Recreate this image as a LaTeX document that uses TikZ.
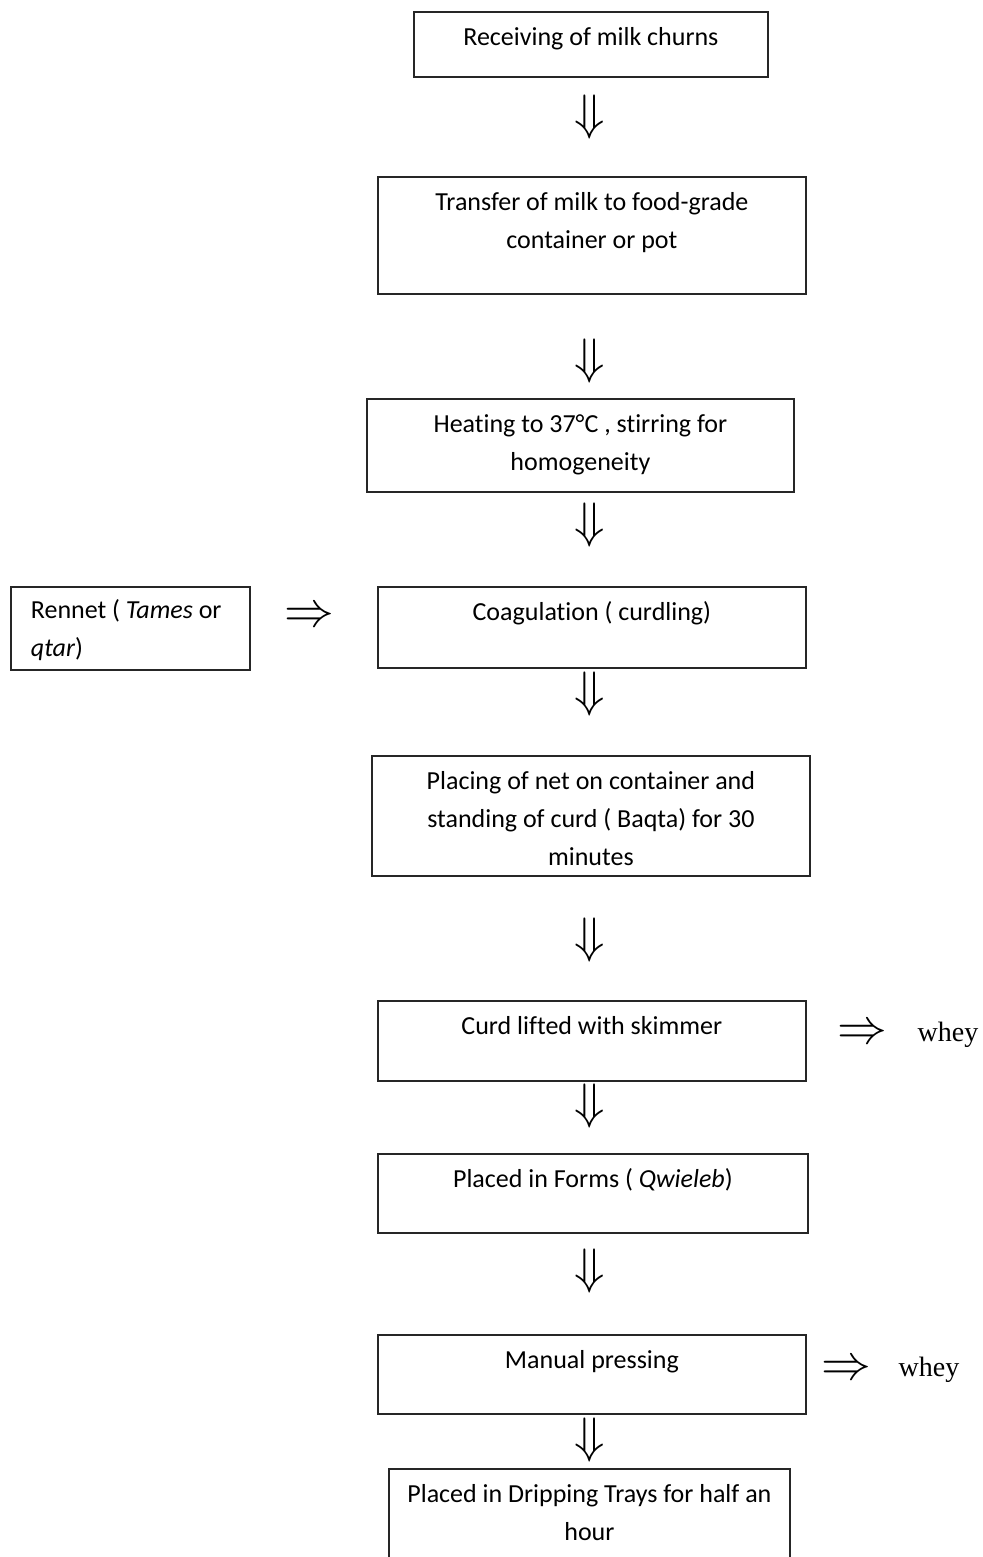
\documentclass[tikz,border=0pt]{standalone}
\usepackage{fontspec}
\setmainfont{Carlito}[Ligatures=NoCommon]
\newfontfamily\wheyfont{Liberation Serif}
\newcommand{\boxtext}[3]{\parbox[c][#2][t]{#1}{\fontsize{13}{19}\selectfont\centering\rule{0pt}{16.8pt}#3}}
\newcommand{\lefttext}[3]{\parbox[c][#2][t]{#1}{\fontsize{13}{19}\selectfont\raggedright\leftskip=10pt\rule{0pt}{15.8pt}#3}}

\begin{document}
\begin{tikzpicture}[x=0.5pt,y=-0.5pt]
        \useasboundingbox (0,0) rectangle (982,1557);
        \fill[white] (0,0) rectangle (982,1557);
        \clip (0,0) rectangle (982,1557);
        \begin{scope}[every node/.style={rectangle,draw=black!85,line width=0.9pt,inner sep=0pt,anchor=north west}]
            \node (S1) at (413,11) {\boxtext{177pt}{32.5pt}{Receiving of milk churns}};
            \node (S2) at (377,176) {\boxtext{214pt}{58.5pt}{Transfer of milk to food-grade\\container or pot}};
            \node (S3) at (366,398) {\boxtext{213.5pt}{46.5pt}{Heating to 37°C , stirring for\\homogeneity}};
            \node (S4) at (377,586) {\boxtext{214pt}{40.5pt}{Coagulation ( curdling)}};
            \node (R) at (10,586) {\lefttext{119.5pt}{41.5pt}{Rennet ( \textit{Tames} or\\\textit{qtar})}};
            \node (S5) at (371,755) {\boxtext{219pt}{60pt}{Placing of net on container and\\standing of curd ( Baqta) for 30\\minutes}};
            \node (S6) at (377,1000) {\boxtext{214pt}{40pt}{Curd lifted with skimmer}};
            \node (S7) at (377,1153) {\boxtext{215pt}{39.5pt}{Placed in Forms ( \textit{Qwieleb})}};
            \node (S8) at (377,1334) {\boxtext{214pt}{39.5pt}{Manual pressing}};
            \node (S9) at (388,1468) {\boxtext{200.5pt}{60pt}{Placed in Dripping Trays for half an\\hour}};
        \end{scope}
        \begin{scope}[every node/.style={inner sep=0pt,font=\Huge}]
            \node (A1) at (590,117) {$\Downarrow$};
            \node (A2) at (590,361) {$\Downarrow$};
            \node (A3) at (590,525) {$\Downarrow$};
            \node (A4) at (590,694) {$\Downarrow$};
            \node (A5) at (590,940) {$\Downarrow$};
            \node (A6) at (590,1106) {$\Downarrow$};
            \node (A7) at (590,1271) {$\Downarrow$};
            \node (A8) at (590,1440) {$\Downarrow$};
            \node (B1) at (309,617) {$\Rightarrow$};
            \node (B2) at (862,1034) {$\Rightarrow$};
            \node (B3) at (846,1370) {$\Rightarrow$};
        \end{scope}
        \begin{scope}[every node/.style={inner sep=0pt,anchor=base,font=\wheyfont\fontsize{14}{16}\selectfont}]
            \node (W1) at (948,1041) {whey};
            \node (W2) at (929,1376) {whey};
        \end{scope}
    \end{tikzpicture}
\end{document}
